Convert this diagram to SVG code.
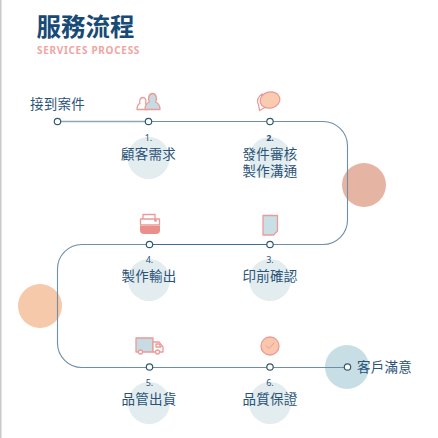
<svg xmlns="http://www.w3.org/2000/svg" width="438" height="438" viewBox="0 0 438 438">
<style>
text{font-family:"Noto Sans CJK TC","Noto Sans",sans-serif;fill:#2a5378;text-anchor:middle}
.lb{font-size:13.5px;letter-spacing:.2px}
.n{font-size:9px;font-family:"Noto Sans","Liberation Sans",sans-serif}
.dot{fill:#fff;stroke:#33596f;stroke-width:1.2}
.halo{fill:#e3ecef}
.ic{stroke:#eb9a98;stroke-width:1.3;stroke-linejoin:round}
</style>
<rect width="438" height="438" fill="#fff"/>
<rect x="0" y="0" width="1.5" height="438" fill="#c9c9c9"/>
<g id="title">
<text x="85.500" y="36" font-size="24.500" font-weight="700" style="fill:#174a76">服務流程</text>
<text x="88.500" y="54" font-size="10" font-weight="700" letter-spacing=".7" style="fill:#f0a5a3;font-family:'Noto Sans',sans-serif">SERVICES PROCESS</text>
</g>
<circle cx="364" cy="185" r="22" fill="#e6b4a2"/>
<circle cx="40" cy="306" r="22" fill="#f6c9aa"/>
<circle cx="347" cy="367" r="22" fill="#c7dfe4"/>
<g id="connectors" fill="none" stroke-linecap="round">
<path d="M57.500 121.500H149" stroke="#8fa6b4" stroke-width="1.600"/>
<path d="M149 121.500H323a24.500 24.500 0 0 1 24.500 24.500v74a24.500 24.500 0 0 1-24.500 24.500H82a24.500 24.500 0 0 0-24.500 24.500v74a24.500 24.500 0 0 0 24.500 24.500H347.500" stroke="#6d8fa8" stroke-width="1.100"/>
<path d="M149 244.500H270" stroke="#3e7097" stroke-width="1"/>
</g>
<g id="start">
<text class="lb" x="57.500" y="109">接到案件</text>
<circle class="dot" cx="57.500" cy="121.500" r="3.200"/>
</g>
<g id="step1">
<circle class="halo" cx="148.500" cy="158" r="21"/>
<g class="ic">
<path d="M137 109.500c0-3.500 1.500-5.500 3-6.300-1-2.500.2-5.700 2.800-5.700 2.400 0 3.800 2.700 2.900 5.500l2 6.500z" fill="#fff"/>
<path d="M145 109.500c0-4 2-6.500 4.500-7.500-1.800-2.600-1-8.500 3-8.500s4.800 5.900 3 8.500c2.500 1 4.500 3.500 4.500 7.500z" fill="#c6dce2"/>
</g>
<circle class="dot" cx="148.500" cy="121.500" r="3.200"/>
<text class="n" x="148.500" y="141">1.</text>
<text class="lb" x="148.500" y="159">顧客需求</text>
</g>
<g id="step2">
<circle class="halo" cx="270" cy="158" r="21"/>
<path class="ic" d="M262 94c-4 3-5.500 7-3.500 10.500l1 6 5.500-3 6-1z" fill="#fff"/>
<ellipse class="ic" cx="270" cy="100" rx="10" ry="8" transform="rotate(-14 270 100)" fill="#f9ccb0"/>
<circle class="dot" cx="270" cy="121.500" r="3.200"/>
<text class="n" x="270" y="141" font-weight="700">2.</text>
<text class="lb" x="270" y="159">發件審核</text>
<text class="lb" x="270" y="176">製作溝通</text>
</g>
<g id="step3">
<circle class="halo" cx="270" cy="280" r="21"/>
<path class="ic" d="M263 215.500h14.500v15.500l-4 4H263z" fill="#c8e0e5"/>
<circle class="dot" cx="270" cy="244.500" r="3.200"/>
<text class="n" x="270" y="263">3.</text>
<text class="lb" x="270" y="281">印前確認</text>
</g>
<g id="step4">
<circle class="halo" cx="149" cy="280" r="21"/>
<path d="M143 219v-4.500h12v4.500" fill="none" stroke="#eb9a98" stroke-width="1.300"/>
<path class="ic" d="M140.500 219h19v6h-19z" fill="#fff"/>
<path d="M140 226h20v4q0 4-4 4h-12q-4 0-4-4z" fill="#ea8f8c"/>
<circle cx="155.500" cy="220.500" r="1.300" fill="#ea8f8c"/>
<circle class="dot" cx="149.500" cy="244.500" r="3.200"/>
<text class="n" x="149.500" y="263">4.</text>
<text class="lb" x="149" y="281">製作輸出</text>
</g>
<g id="step5">
<circle class="halo" cx="149" cy="403" r="21"/>
<g class="ic">
<path d="M136 338h17v14h-17z" fill="#c6dce2"/>
<path d="M153 342h6l4 5v5h-10z" fill="#fff"/>
<path d="M156 344h3l2 3h-5z" fill="none"/>
<circle cx="140.500" cy="352" r="2" fill="#fff"/>
<circle cx="157.500" cy="352" r="2" fill="#fff"/>
</g>
<circle class="dot" cx="149.500" cy="367" r="3.200"/>
<text class="n" x="149.500" y="386">5.</text>
<text class="lb" x="149" y="404">品管出貨</text>
</g>
<g id="step6">
<circle class="halo" cx="270" cy="403" r="21"/>
<circle class="ic" cx="270" cy="346" r="9" fill="#f9c8ac"/>
<path d="M266 345.500l3 3 5.500-6" fill="none" stroke="#eb9a98" stroke-width="1"/>
<circle class="dot" cx="270" cy="367" r="3.200"/>
<text class="n" x="270" y="386">6.</text>
<text class="lb" x="270" y="404">品質保證</text>
</g>
<g id="end">
<circle class="dot" cx="347.500" cy="367" r="3.200"/>
<text class="lb" x="384.500" y="372">客戶滿意</text>
</g>
</svg>
